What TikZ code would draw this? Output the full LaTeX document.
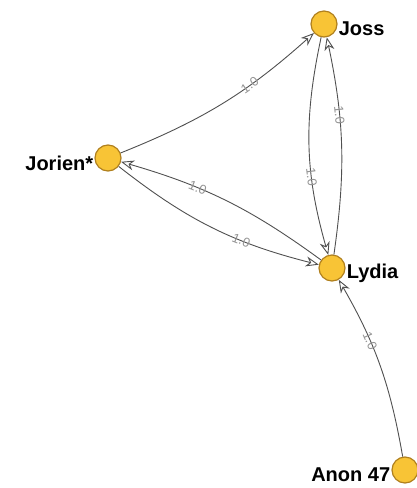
\documentclass[tikz,border=0pt]{standalone}
\usepackage{fontspec}
\setmainfont{Liberation Sans}
\usetikzlibrary{arrows.meta}

\definecolor{nodefill}{RGB}{248,196,54}
\definecolor{nodeline}{RGB}{176,128,30}
\definecolor{linkgray}{RGB}{80,80,80}

\tikzset{
	person/.style={circle, draw=nodeline, fill=nodefill, line width=1.2pt, minimum size=26pt, inner sep=0pt},
	who/.style={font=\fontsize{20}{22}\selectfont\bfseries, text=black, inner sep=1pt, yshift=-5pt},
	link/.style={draw=linkgray, line width=0.9pt, -{Stealth[open, length=13pt, width=10pt, inset=4pt]}, bend right=10},
	weight/.style={pos=0.65, sloped, font=\fontsize{13}{13}\selectfont, text=gray!85}
}

\begin{document}
\begin{tikzpicture}[x=1pt, y=-1pt]
		\useasboundingbox (0,0) rectangle (417,488);
		
		% persone
		\node[person, label={[who]right:Joss}] (joss) at (324,24) {};
		\node[person, label={[who]left:Jorien*}] (jorien) at (108,158) {};
		\node[person, label={[who]right:Lydia}] (lydia) at (332,268) {};
		\node[person, label={[who]left:Anon 47}] (anon) at (405,470) {};
		
		% legami
		\draw[link] (jorien) to node[weight] {1.0} (joss);
		\draw[link, bend right=14] (joss) to node[weight] {1.0} (lydia);
		\draw[link] (lydia) to node[weight] {1.0} (joss);
		\draw[link] (lydia) to node[weight] {1.0} (jorien);
		\draw[link, bend right=12] (jorien) to node[weight] {1.0} (lydia);
		
		% anonimo
		\draw[link] (anon) to node[weight] {1.0} (lydia);
	\end{tikzpicture}
\end{document}
